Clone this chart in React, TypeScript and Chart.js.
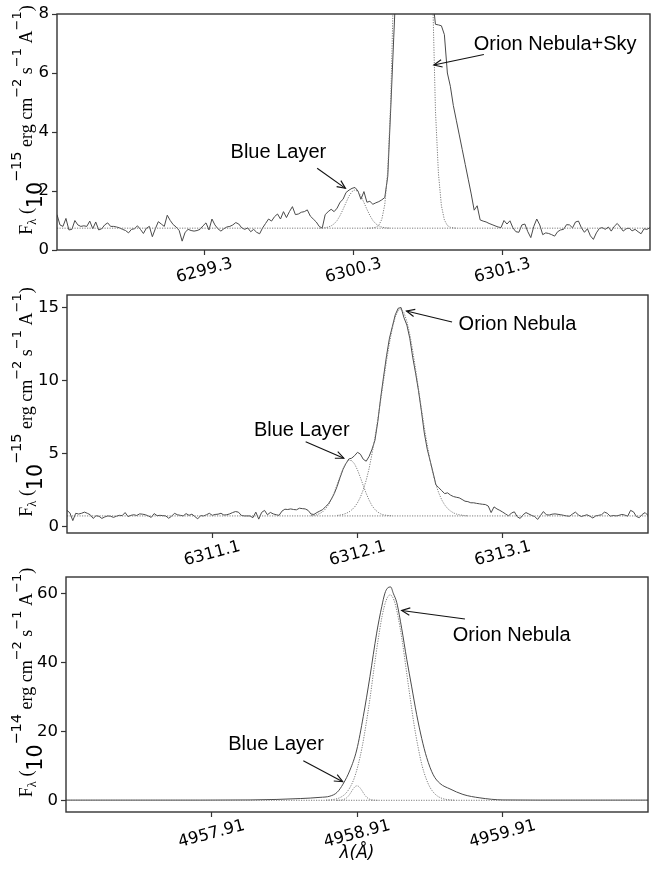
import React, { useEffect, useRef } from "react";
import { Chart, registerables } from "chart.js";

Chart.register(...registerables);

const PAGE_W = 660;
const PAGE_H = 876;

// ---------- [O I] 6300 panel ----------
const p1WaveStart = 6298.31;
const p1WaveStep = 0.02;
const p1Flux = [
  1.2, 0.85, 0.8, 1.07, 0.68, 0.7, 1.0, 0.85, 0.8, 0.82,
  0.8, 0.98, 0.72, 0.95, 0.68, 0.72, 0.85, 0.92, 0.8, 0.8,
  0.78, 0.75, 0.7, 0.66, 0.58, 0.7, 0.72, 0.82, 0.7, 0.56,
  0.74, 0.8, 0.45, 0.72, 0.96, 0.88, 0.8, 1.18, 1.0, 0.86,
  0.78, 0.66, 0.3, 0.6, 0.7, 0.66, 0.64, 0.66, 0.7, 0.82,
  0.92, 0.68, 1.05, 0.85, 0.72, 0.64, 0.72, 0.78, 0.8, 0.85,
  0.93, 0.88, 0.75, 0.7, 0.75, 0.62, 0.7, 0.6, 0.55, 0.75,
  0.9, 1.05, 0.98, 1.13, 1.22, 1.05, 1.3, 1.1, 1.3, 1.47,
  1.2, 1.22, 1.28, 1.3, 1.36, 1.15, 1.05, 0.95, 0.8, 0.74,
  1.2, 1.3, 1.38, 1.3, 1.42, 1.62, 1.72, 1.95, 2.03, 2.09,
  2.12, 2.0, 1.72, 1.98, 1.62, 1.65, 1.55, 1.6, 1.64, 1.7,
  1.78, 2.5, 4.8, 7.2, 9.5, 16, 26, 38, 50, 60,
  64, 60, 50, 38, 26, 16, 8.6, 7.65, 7.63, 7.6,
  7.3, 6.0, 5.55, 4.9, 4.4, 3.9, 3.4, 2.9, 2.4, 1.9,
  1.35, 1.5, 1.02, 0.98, 0.95, 0.9, 0.86, 0.82, 0.78, 0.76,
  1.0, 0.88, 0.99, 0.75, 0.62, 0.6, 0.85, 0.88, 0.62, 0.42,
  0.8, 1.05, 0.85, 0.52, 0.58, 0.56, 0.52, 0.47, 0.62, 0.68,
  0.7, 0.86, 0.85, 0.75, 0.95, 0.98, 0.75, 0.6, 0.72, 0.48,
  0.36, 0.58, 0.73, 0.76, 0.7, 0.78, 0.64, 0.8, 0.9, 0.78,
  0.64, 0.72, 0.74, 0.65, 0.7, 0.62, 0.55, 0.72, 0.7, 0.76,
];
const p1Continuum = 0.74;
const p1BlueStart = 6300.07;
const p1BlueFit = [
  0.742, 0.746, 0.755, 0.776, 0.817, 0.887, 1.0, 1.17, 1.38, 1.61, 1.83, 1.98, 2.04,
  1.98, 1.83, 1.61, 1.38, 1.17, 1.0, 0.887, 0.817, 0.776, 0.755, 0.746, 0.742,
];
const p1NebulaStart = 6300.39;
const p1NebulaFit = [
  0.74, 0.742, 0.75, 0.77, 0.84, 1.04, 1.54, 2.7, 5.07, 9.2, 16.1, 25.8, 37.9, 50.6, 61, 67,
  66.8, 60.3, 49.4, 37, 25.1, 15.5, 8.9, 4.73, 2.6, 1.5, 1.02, 0.83, 0.77, 0.75, 0.74,
];
const p1XTicks = [6299.3, 6300.3, 6301.3];
const p1XTickLabels = ["6299.3", "6300.3", "6301.3"];
const p1YTicks = [0, 2, 4, 6, 8];

// ---------- [S III] 6312 panel ----------
const p2WaveStart = 6310.1;
const p2WaveStep = 0.02;
const p2Flux = [
  1.1, 0.93, 0.4, 0.9, 0.85, 0.9, 0.98, 0.9, 0.8, 0.55,
  0.73, 0.7, 0.55, 0.65, 0.72, 0.7, 0.62, 0.7, 0.76, 0.74,
  0.95, 0.68, 0.76, 0.8, 0.75, 0.86, 0.84, 0.8, 0.72, 0.62,
  0.88, 0.74, 0.76, 0.74, 0.72, 0.56, 0.7, 0.9, 0.8, 0.76,
  0.72, 0.88, 0.76, 0.84, 0.68, 0.52, 0.74, 0.72, 0.8, 0.9,
  0.76, 0.82, 0.84, 0.9, 0.78, 0.8, 0.86, 0.95, 1.02, 0.98,
  0.76, 0.72, 0.72, 0.72, 0.6, 0.98, 0.5, 0.96, 1.1, 0.8,
  0.96, 0.86, 0.8, 0.76, 1.05, 1.18, 1.16, 1.2, 1.16, 1.14,
  1.25, 1.22, 1.2, 1.1, 0.85, 0.82, 0.95, 1.05, 1.15, 1.35,
  1.55, 1.87, 2.25, 2.75, 3.35, 3.9, 4.3, 4.62, 4.68, 4.85,
  5.08, 4.95, 4.6, 4.47, 4.8, 5.29, 5.9, 7.2, 8.85, 10.3,
  11.7, 12.9, 13.7, 14.5, 14.95, 15.0, 14.3, 13.8, 12.9, 11.6,
  10.5, 9.3, 7.9, 6.4, 5.3, 4.5, 3.7, 2.85, 2.65, 2.45,
  2.25, 2.3, 2.15, 2.05, 2.0, 1.96, 1.85, 1.73, 1.7, 1.62,
  1.62, 1.58, 1.55, 1.52, 1.5, 1.4, 0.95, 1.34, 1.2, 1.1,
  0.98, 0.85, 0.72, 0.92, 1.0, 0.66, 0.55, 0.8, 0.95, 0.85,
  0.75, 0.68, 0.48, 0.75, 1.02, 0.8, 0.78, 0.84, 0.86, 0.83,
  0.8, 0.76, 0.72, 0.7, 0.85, 0.98, 0.8, 0.68, 0.74, 0.8,
  0.7, 0.58, 0.72, 0.76, 0.8, 0.98, 0.9, 0.7, 0.75, 0.72,
  0.76, 0.82, 0.78, 0.7, 1.1, 1.0, 0.68, 0.6, 0.82, 0.95,
  0.75,
];
const p2Continuum = 0.72;
const p2BlueStart = 6311.78;
const p2BlueFit = [
  0.73, 0.76, 0.8, 0.88, 1.0, 1.2, 1.48, 1.86, 2.33, 2.87, 3.43, 3.95, 4.33, 4.53, 4.51,
  4.28, 3.87, 3.35, 2.79, 2.26, 1.8, 1.42, 1.16, 0.98, 0.86, 0.79, 0.76, 0.74, 0.72,
];
const p2NebulaStart = 6311.96;
const p2NebulaFit = [
  0.755, 0.78, 0.82, 0.89, 0.98, 1.13, 1.33, 1.62, 2.01, 2.52, 3.17, 3.97, 4.98, 6.1, 7.35,
  8.67, 10.04, 11.37, 12.57, 13.6, 14.35, 14.81, 14.91, 14.65, 14.05, 13.16, 12.05, 10.77,
  9.42, 8.07, 6.77, 5.58, 4.5, 3.6, 2.86, 2.28, 1.82, 1.48, 1.23, 1.06, 0.93, 0.85, 0.8,
  0.77, 0.74, 0.72,
];
const p2XTicks = [6311.1, 6312.1, 6313.1];
const p2XTickLabels = ["6311.1", "6312.1", "6313.1"];
const p2YTicks = [0, 5, 10, 15];

// ---------- [O III] 4959 panel ----------
const p3Wave = [
  4956.91, 4957.83, 4958.175, 4958.36, 4958.52, 4958.656, 4958.724, 4958.773, 4958.814,
  4958.862, 4958.908, 4958.953, 4958.999, 4959.045, 4959.08, 4959.102, 4959.118, 4959.142,
  4959.159, 4959.183, 4959.217, 4959.252, 4959.286, 4959.32, 4959.355, 4959.389, 4959.434,
  4959.48, 4959.549, 4959.638, 4959.755, 4959.913, 4960.168, 4960.91,
];
const p3Flux = [
  0.15, 0.15, 0.2, 0.35, 0.6, 0.95, 1.3, 2.4, 4.8,
  8.9, 14.7, 24.4, 36.0, 48.6, 56.3, 60.2, 61.6, 62.0,
  60.2, 57.5, 50.0, 41.0, 33.0, 25.0, 18.0, 12.5, 7.5,
  5.0, 3.4, 1.8, 0.8, 0.2, 0.15, 0.15,
];
const p3Continuum = 0.1;
const p3BlueWave = [
  4958.77, 4958.79, 4958.81, 4958.83, 4958.84, 4958.85, 4958.86, 4958.87, 4958.88, 4958.89,
  4958.9, 4958.91, 4958.92, 4958.93, 4958.94, 4958.95, 4958.96, 4958.97, 4958.98, 4958.99,
  4959.01, 4959.03, 4959.05,
];
const p3BlueFit = [
  0.1, 0.13, 0.23, 0.55, 0.86, 1.29, 1.85, 2.5, 3.17, 3.75,
  4.16, 4.3, 4.16, 3.75, 3.17, 2.5, 1.85, 1.29, 0.86, 0.55,
  0.23, 0.13, 0.1,
];
const p3NebulaWave = [
  4958.697, 4958.725, 4958.752, 4958.78, 4958.807, 4958.835, 4958.862, 4958.89, 4958.917,
  4958.945, 4958.972, 4959.0, 4959.027, 4959.055, 4959.082, 4959.11, 4959.137, 4959.165,
  4959.192, 4959.22, 4959.247, 4959.275, 4959.302, 4959.33, 4959.357, 4959.385, 4959.412,
  4959.44, 4959.467, 4959.495, 4959.522, 4959.55, 4959.577,
];
const p3NebulaFit = [
  0.14, 0.22, 0.36, 0.65, 1.21, 2.19, 3.84, 6.4, 10.2, 15.5, 22.1, 29.9, 38.4, 46.6, 53.4,
  58.1, 59.7, 58.1, 53.4, 46.6, 38.4, 29.9, 22.1, 15.5, 10.2, 6.4, 3.84, 2.19, 1.21, 0.65,
  0.36, 0.22, 0.14,
];
const p3XTicks = [4957.91, 4958.91, 4959.91];
const p3XTickLabels = ["4957.91", "4958.91", "4959.91"];
const p3YTicks = [0, 20, 40, 60];

type Pt = { x: number; y: number };
type Note = { text: string; tx: number; ty: number; ax: number; ay: number; hx: number; hy: number };

const gridSeries = (start: number, step: number, vals: number[]): Pt[] =>
  vals.map((y, i) => ({ x: +(start + i * step).toFixed(4), y }));
const pairSeries = (xs: number[], ys: number[]): Pt[] => xs.map((x, i) => ({ x, y: ys[i] }));
const flat = (x0: number, x1: number, y: number): Pt[] => [{ x: x0, y }, { x: x1, y }];

const SOLID = "#4a4a4a";
const DOTTED = "#7c7c7c";

const panels = [
  {
    area: { left: 57, top: 14, right: 650, bottom: 250 },
    xRange: [6298.31, 6302.29],
    yRange: [0, 8],
    xTicks: p1XTicks,
    xTickLabels: p1XTickLabels,
    yTicks: p1YTicks,
    exponent: "\u221215",
    smooth: false,
    spectrum: gridSeries(p1WaveStart, p1WaveStep, p1Flux),
    fits: [
      flat(6298.31, 6302.29, p1Continuum),
      gridSeries(p1BlueStart, p1WaveStep, p1BlueFit),
      gridSeries(p1NebulaStart, p1WaveStep, p1NebulaFit),
    ],
    notes: [
      { text: "Blue Layer", tx: 6299.475, ty: 3.11, ax: 6300.056, ay: 2.77, hx: 6300.246, hy: 2.09 },
      { text: "Orion Nebula+Sky", tx: 6301.107, ty: 6.78, ax: 6301.175, ay: 6.63, hx: 6300.839, hy: 6.27 },
    ] as Note[],
    xTitle: "",
  },
  {
    area: { left: 67, top: 295, right: 648, bottom: 533 },
    xRange: [6310.1, 6314.1],
    yRange: [-0.45, 15.86],
    xTicks: p2XTicks,
    xTickLabels: p2XTickLabels,
    yTicks: p2YTicks,
    exponent: "\u221215",
    smooth: false,
    spectrum: gridSeries(p2WaveStart, p2WaveStep, p2Flux),
    fits: [
      flat(6310.1, 6314.1, p2Continuum),
      gridSeries(p2BlueStart, p2WaveStep, p2BlueFit),
      gridSeries(p2NebulaStart, p2WaveStep, p2NebulaFit),
    ],
    notes: [
      { text: "Blue Layer", tx: 6311.387, ty: 6.2, ax: 6311.743, ay: 5.81, hx: 6312.006, hy: 4.68 },
      { text: "Orion Nebula", tx: 6312.796, ty: 13.45, ax: 6312.751, ay: 14.01, hx: 6312.437, hy: 14.76 },
    ] as Note[],
    xTitle: "",
  },
  {
    area: { left: 66, top: 577, right: 648, bottom: 812 },
    xRange: [4956.91, 4960.91],
    yRange: [-3.3, 64.9],
    xTicks: p3XTicks,
    xTickLabels: p3XTickLabels,
    yTicks: p3YTicks,
    exponent: "\u221214",
    smooth: true,
    spectrum: pairSeries(p3Wave, p3Flux),
    fits: [
      flat(4956.91, 4960.91, p3Continuum),
      pairSeries(p3BlueWave, p3BlueFit),
      pairSeries(p3NebulaWave, p3NebulaFit),
    ],
    notes: [
      { text: "Blue Layer", tx: 4958.025, ty: 14.7, ax: 4958.541, ay: 11.6, hx: 4958.812, hy: 5.5 },
      { text: "Orion Nebula", tx: 4959.568, ty: 46.2, ax: 4959.652, ay: 52.7, hx: 4959.217, hy: 55.2 },
    ] as Note[],
    xTitle: "\u03bb(\u00c5)",
  },
];

type Panel = (typeof panels)[number];

function drawArrow(ctx: CanvasRenderingContext2D, x0: number, y0: number, x1: number, y1: number) {
  ctx.beginPath();
  ctx.moveTo(x0, y0);
  ctx.lineTo(x1, y1);
  ctx.stroke();
  const ang = Math.atan2(y1 - y0, x1 - x0);
  const len = 9;
  const spread = 0.42;
  ctx.beginPath();
  ctx.moveTo(x1 - len * Math.cos(ang - spread), y1 - len * Math.sin(ang - spread));
  ctx.lineTo(x1, y1);
  ctx.lineTo(x1 - len * Math.cos(ang + spread), y1 - len * Math.sin(ang + spread));
  ctx.stroke();
}

function drawFluxTitle(ctx: CanvasRenderingContext2D, baseX: number, midY: number, exponent: string) {
  const serif = (s: number) => `${s}px "Liberation Serif"`;
  const sans = (s: number) => `${s}px "DejaVu Sans"`;
  const segs = [
    { t: "F", f: serif(18), dv: 0 },
    { t: "\u03bb", f: serif(12.5), dv: 4 },
    { t: " (", f: serif(18), dv: 0 },
    { t: "10", f: sans(20.5), dv: 10 },
    { t: exponent, f: sans(14.5), dv: -11 },
    { t: " erg", f: serif(18), dv: 0 },
    { t: " cm", f: serif(18), dv: 0 },
    { t: "\u22122", f: sans(13), dv: -11 },
    { t: " s", f: serif(18), dv: 0 },
    { t: "\u22121", f: sans(13), dv: -11 },
    { t: " A", f: serif(18), dv: 0 },
    { t: "\u22121", f: sans(13), dv: -11 },
    { t: ")", f: serif(18), dv: 0 },
  ];
  const widths = segs.map((s) => {
    ctx.font = s.f;
    return ctx.measureText(s.t).width;
  });
  const total = widths.reduce((a, b) => a + b, 0);
  ctx.save();
  ctx.translate(baseX, midY);
  ctx.rotate(-Math.PI / 2);
  ctx.textAlign = "left";
  ctx.textBaseline = "alphabetic";
  ctx.fillStyle = "#000";
  let u = -total / 2;
  segs.forEach((s, i) => {
    ctx.font = s.f;
    ctx.fillText(s.t, u, s.dv);
    u += widths[i];
  });
  ctx.restore();
}

function decorPlugin(p: Panel) {
  return {
    id: "panelDecor",
    afterDraw(chart: any) {
      const { ctx, chartArea: a, scales } = chart;
      const xs = scales.x;
      const ys = scales.y;
      ctx.save();

      // axes frame
      ctx.strokeStyle = "#333";
      ctx.lineWidth = 1.4;
      ctx.strokeRect(a.left, a.top, a.right - a.left, a.bottom - a.top);

      // rotated wavelength tick labels
      ctx.fillStyle = "#000";
      ctx.font = '16.5px "DejaVu Sans"';
      const rot = (15 * Math.PI) / 180;
      p.xTicks.forEach((v, i) => {
        const label = p.xTickLabels[i];
        const w = ctx.measureText(label).width;
        const half = (w * Math.sin(rot) + 13 * Math.cos(rot)) / 2;
        ctx.save();
        ctx.translate(xs.getPixelForValue(v), a.bottom + 7 + half);
        ctx.rotate(-rot);
        ctx.textAlign = "center";
        ctx.textBaseline = "middle";
        ctx.fillText(label, 0, 0);
        ctx.restore();
      });

      // flux axis title
      drawFluxTitle(ctx, 32, (a.top + a.bottom) / 2 - 12, p.exponent);

      // wavelength axis title
      if (p.xTitle) {
        ctx.font = 'italic 17px "DejaVu Sans"';
        ctx.textAlign = "center";
        ctx.textBaseline = "middle";
        ctx.fillText(p.xTitle, (a.left + a.right) / 2, a.bottom + 42);
      }

      // annotations
      ctx.font = '20px "Liberation Sans"';
      ctx.textAlign = "left";
      ctx.textBaseline = "alphabetic";
      ctx.strokeStyle = "#111";
      ctx.lineWidth = 1.1;
      p.notes.forEach((n) => {
        ctx.fillText(n.text, xs.getPixelForValue(n.tx), ys.getPixelForValue(n.ty));
        drawArrow(
          ctx,
          xs.getPixelForValue(n.ax),
          ys.getPixelForValue(n.ay),
          xs.getPixelForValue(n.hx),
          ys.getPixelForValue(n.hy)
        );
      });
      ctx.restore();
    },
  };
}

function buildConfig(p: Panel): any {
  const { area } = p;
  const tickGrid = {
    drawOnChartArea: false,
    drawTicks: true,
    tickLength: 5,
    tickColor: "#333",
    tickWidth: 1.2,
    color: "#333",
  };
  const fitSets = p.fits.map((pts) => ({
    data: pts,
    borderColor: DOTTED,
    borderWidth: 1,
    borderDash: [1.2, 1.3],
    pointRadius: 0,
    fill: false,
    tension: 0,
    cubicInterpolationMode: p.smooth ? "monotone" : "default",
  }));
  return {
    type: "line",
    data: {
      datasets: [
        ...fitSets,
        {
          data: p.spectrum,
          borderColor: SOLID,
          borderWidth: 1,
          pointRadius: 0,
          fill: false,
          tension: 0,
          cubicInterpolationMode: p.smooth ? "monotone" : "default",
        },
      ],
    },
    options: {
      responsive: false,
      maintainAspectRatio: false,
      animation: false,
      events: [],
      layout: {
        padding: { left: 0, top: area.top, right: PAGE_W - area.right, bottom: PAGE_H - area.bottom - 8 },
      },
      plugins: { legend: { display: false }, tooltip: { enabled: false } },
      scales: {
        x: {
          type: "linear",
          min: p.xRange[0],
          max: p.xRange[1],
          afterBuildTicks: (s: any) => {
            s.ticks = p.xTicks.map((v) => ({ value: v }));
          },
          afterFit: (s: any) => {
            s.height = 8;
          },
          ticks: { display: false },
          grid: tickGrid,
          border: { display: false },
        },
        y: {
          type: "linear",
          min: p.yRange[0],
          max: p.yRange[1],
          afterBuildTicks: (s: any) => {
            s.ticks = p.yTicks.map((v) => ({ value: v }));
          },
          afterFit: (s: any) => {
            s.width = area.left;
          },
          ticks: {
            font: { family: "DejaVu Sans", size: 16.5 },
            color: "#000",
            padding: 3,
            callback: (v: number) => String(v),
          },
          grid: tickGrid,
          border: { display: false },
        },
      },
    },
    plugins: [decorPlugin(p)],
  };
}

function SpectrumPanel({ panel }: { panel: Panel }) {
  const ref = useRef<HTMLCanvasElement>(null);
  useEffect(() => {
    const chart = new Chart(ref.current as HTMLCanvasElement, buildConfig(panel));
    return () => chart.destroy();
  }, [panel]);
  return (
    <canvas
      ref={ref}
      width={PAGE_W}
      height={PAGE_H}
      style={{ position: "absolute", left: 0, top: 0, width: PAGE_W, height: PAGE_H }}
    />
  );
}

export default function App() {
  return (
    <div
      style={{
        position: "absolute",
        left: 0,
        top: 0,
        width: PAGE_W,
        height: PAGE_H,
        background: "#fff",
        overflow: "hidden",
      }}
    >
      {panels.map((p, i) => (
        <SpectrumPanel key={i} panel={p} />
      ))}
    </div>
  );
}
